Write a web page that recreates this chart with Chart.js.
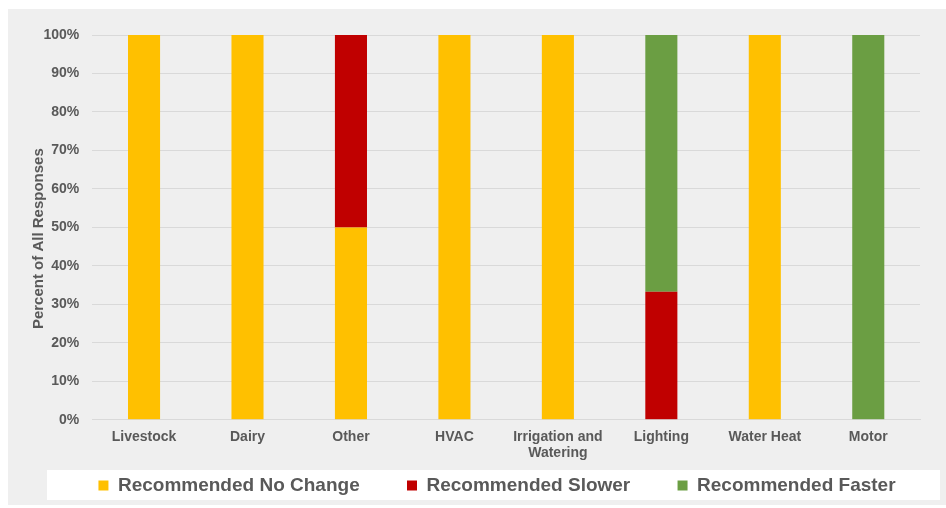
<!DOCTYPE html>
<html>
<head>
<meta charset="utf-8">
<script src="https://cdn.jsdelivr.net/npm/chart.js@4/dist/chart.umd.min.js"></script>
<style>
  html, body { margin: 0; padding: 0; background: #ffffff; }
  #wrap { width: 946px; height: 508px; }
</style>
</head>
<body>
<div id="wrap"><canvas id="speedChart" width="946" height="508"></canvas></div>
<script>
const categories = ['Livestock', 'Dairy', 'Other', 'HVAC', ['Irrigation and', 'Watering'], 'Lighting', 'Water Heat', 'Motor'];
const noChange = [100, 100, 50, 100, 100, 0, 100, 0];
const slower = [0, 0, 50, 0, 0, 33.3, 0, 0];
const faster = [0, 0, 0, 0, 0, 66.7, 0, 100];
const yTicks = [0, 10, 20, 30, 40, 50, 60, 70, 80, 90, 100];

const textGray = '#595959';
const fontFamily = '"Liberation Sans", Arial, sans-serif';

// gray page panel and the white strip behind the legend
const backdrop = {
  id: 'backdrop',
  beforeDraw(chart) {
    const ctx = chart.ctx;
    ctx.save();
    ctx.fillStyle = '#ffffff';
    ctx.fillRect(0, 0, chart.width, chart.height);
    ctx.fillStyle = '#efefef';
    ctx.fillRect(8, 9, chart.width - 8, chart.height - 12);
    ctx.fillStyle = '#ffffff';
    ctx.fillRect(47, 470, 893, 30);
    ctx.restore();
  },
  afterLayout(chart) {
    // legend strip is centred a bit right of the canvas centre
    chart.legend.left += 20;
    chart.legend.right += 20;
  }
};

const ctx = document.getElementById('speedChart').getContext('2d');
new Chart(ctx, {
  type: 'bar',
  data: {
    labels: categories,
    datasets: [
      { label: 'Recommended No Change', data: noChange, backgroundColor: '#ffc000' },
      { label: 'Recommended Slower', data: slower, backgroundColor: '#c00000' },
      { label: 'Recommended Faster', data: faster, backgroundColor: '#6b9e43' },
    ],
  },
  options: {
    responsive: false,
    animation: false,
    layout: { padding: { left: 34, right: 26, top: 35, bottom: 3 } },
    datasets: {
      bar: { categoryPercentage: 1, barPercentage: 0.31, borderWidth: 0 },
    },
    scales: {
      x: {
        stacked: true,
        grid: { display: false, drawTicks: false },
        border: { display: true, color: '#d9d9d9' },
        ticks: {
          color: textGray,
          font: { family: fontFamily, size: 14, weight: 'bold', lineHeight: 1.15 },
          maxRotation: 0,
          padding: 9,
        },
        afterFit: (scale) => { scale.height += 2; },
      },
      y: {
        stacked: true,
        min: 0,
        max: 100,
        afterBuildTicks: (scale) => { scale.ticks = yTicks.map((v) => ({ value: v })); },
        afterFit: (scale) => { scale.width -= 14; },
        grid: { color: '#d9d9d9', drawTicks: false },
        border: { display: false },
        ticks: {
          color: textGray,
          font: { family: fontFamily, size: 14, weight: 'bold' },
          padding: 13,
          callback: (v) => v + '%',
        },
        title: {
          display: true,
          // trailing spaces nudge the rotated title down a little
          text: 'Percent of All Responses\u2002\u2002\u2002',
          color: textGray,
          font: { family: fontFamily, size: 15, weight: 'bold', lineHeight: 0.7 },
          padding: 0,
        },
      },
    },
    plugins: {
      legend: {
        position: 'bottom',
        labels: {
          color: textGray,
          font: { family: fontFamily, size: 19, weight: 'bold' },
          boxWidth: 10,
          boxHeight: 10,
          padding: 4,
          // widen the gap after the first two entries
          generateLabels: (chart) => {
            const items = Chart.defaults.plugins.legend.labels.generateLabels(chart);
            items.forEach((it, i) => { if (i < items.length - 1) it.text += '\u2003\u2003 '; });
            return items;
          },
        },
      },
      tooltip: { enabled: false },
    },
  },
  plugins: [backdrop],
});
</script>
</body>
</html>
